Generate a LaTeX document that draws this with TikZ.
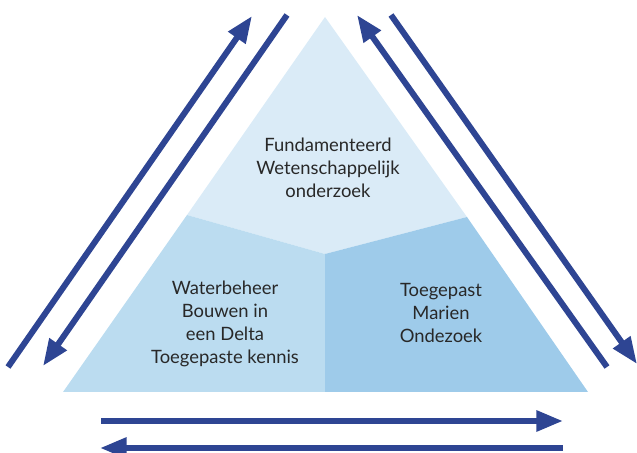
\documentclass[tikz,border=0pt]{standalone}
\usepackage{fontspec}
\setmainfont{Lato}
\usepackage{tikz}
\usepackage{xcolor}
\usetikzlibrary{arrows.meta}

\definecolor{topblue}{RGB}{218,235,247}
\definecolor{leftblue}{RGB}{187,220,240}
\definecolor{rightblue}{RGB}{158,203,234}
\definecolor{arrowblue}{RGB}{46,69,147}
\definecolor{textgrey}{RGB}{40,40,40}

\tikzset{
  flow/.style={draw=arrowblue, line width=4.5pt, -{Triangle[length=20pt,width=15pt]}},
  label/.style={align=center, text=textgrey, font=\fontsize{13.8}{17.3}\selectfont}
}

\begin{document}
\begin{tikzpicture}[x=0.75pt,y=0.75pt,yscale=-1,xscale=1]
\path[use as bounding box] (0,0) rectangle (637,453);

%Shape: Triangle corners
\coordinate (apex) at (325,17);
\coordinate (bl) at (63,392);
\coordinate (br) at (588,392);
\coordinate (mid) at (325,254);
\coordinate (ml) at (187,215);
\coordinate (mr) at (467,217);
\coordinate (mb) at (325,392);

%Shape: Top part
\fill [topblue] (apex) -- (mr) -- (mid) -- (ml) -- cycle ;
%Shape: Bottom left part
\fill [leftblue] (ml) -- (mid) -- (mb) -- (bl) -- cycle ;
%Shape: Bottom right part
\fill [rightblue] (mr) -- (br) -- (mb) -- (mid) -- cycle ;

%Arrow ends
\coordinate (a1s) at (8,367);
\coordinate (a1e) at (252,16);
\coordinate (a2s) at (287,15);
\coordinate (a2e) at (43,366);
\coordinate (a3s) at (607,367);
\coordinate (a3e) at (357,15);
\coordinate (a4s) at (391,15);
\coordinate (a4e) at (637,364);
\coordinate (a5s) at (101,421);
\coordinate (a5e) at (563,421);
\coordinate (a6s) at (563,448);
\coordinate (a6e) at (100,448);

%Straight Lines
\draw [flow] (a1s) -- (a1e) ;
\draw [flow] (a2s) -- (a2e) ;
\draw [flow] (a3s) -- (a3e) ;
\draw [flow] (a4s) -- (a4e) ;
\draw [flow] (a5s) -- (a5e) ;
\draw [flow] (a6s) -- (a6e) ;

% Text Node
\node [label] (fund) at (328,168) {Fundamenteerd\\Wetenschappelijk\\onderzoek};
% Text Node
\node [label] (water) at (225,324) {Waterbeheer\\Bouwen in\\een Delta\\Toegepaste kennis};
% Text Node
\node [label] (marien) at (441,313) {Toegepast\\Marien\\Ondezoek};
\end{tikzpicture}
\end{document}
